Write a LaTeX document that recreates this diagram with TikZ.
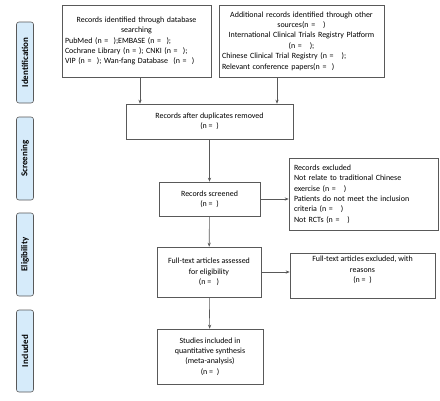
\documentclass[tikz,border=0pt]{standalone}
\usepackage{fontspec}
\setmainfont{Carlito}
\usetikzlibrary{arrows.meta}
\definecolor{boxline}{HTML}{595959}
\definecolor{stagefill}{HTML}{D6EBFA}
\begin{document}
\begin{tikzpicture}
        [x=1bp,y=-1bp,
         box/.style={draw=boxline,line width=0.6bp,inner sep=3bp,
           font=\fontsize{8}{10.4}\selectfont},
         stage/.style={draw=boxline,fill=stagefill,rounded corners=2.5bp,
           line width=0.6bp,rotate=90,minimum height=17bp,inner sep=1bp,
           font=\fontsize{9}{10}\selectfont\bfseries},
         flow/.style={draw=boxline,line width=0.6bp,
           -{Stealth[length=4bp,width=3.2bp]}}]
        \useasboundingbox (0,0) rectangle (440,400);

        % stages on the left
        \node[stage,minimum width=81bp] (id) at (25,62.5) {Identification};
        \node[stage,minimum width=83bp] (scrstage) at (25,158.5) {Screening};
        \node[stage,minimum width=83bp] (elig) at (25,254.5) {Eligibility};
        \node[stage,minimum width=82bp] (incstage) at (25,351) {Included};

        % boxes
        \node[box,minimum width=149bp,minimum height=72bp,text width=143bp,align=left]
          (db) at (136.5,41)
          {{\centering Records identified through database\par searching\par}
           PubMed (n =~~);EMBASE (n =~~);\\
           Cochrane Library (n =~); CNKI (n =~~);\\
           VIP (n =~~); Wan-fang Database~ (n =~~)\\[3bp]};
        \node[box,minimum width=165bp,minimum height=72bp,text width=159bp,align=left]
          (other) at (301.5,41)
          {{\centering Additional records identified through other\par sources(n =~~~)\par
            International Clinical Trials Registry Platform\par (n =~~~);\par}
           Chinese Clinical Trial Registry (n =~~~);\\
           Relevant conference papers(n =~~)};
        \node[box,minimum width=167bp,minimum height=35bp,align=center]
          (dup) at (209.5,121.5) {Records after duplicates removed\\ (n =~~)};
        \node[box,minimum width=101bp,minimum height=34bp,align=center]
          (scr) at (209.5,199) {Records screened\\ (n =~~)};
        \node[box,minimum width=149bp,minimum height=72bp,text width=139bp,
          align=left,inner sep=5bp]
          (excl) at (363.5,194)
          {Records excluded\\
           Not relate to traditional Chinese\\
           exercise (n =~~~)\\
           Patients do not meet the inclusion\\
           criteria (n =~~~)\\
           Not RCTs (n =~~~)};
        \node[box,minimum width=104bp,minimum height=50bp,align=center]
          (ft) at (209,272) {Full-text articles assessed\\ for eligibility\\ (n =~~~)};
        \node[box,minimum width=145bp,minimum height=45bp,align=center]
          (ftex) at (362.5,275.5) {Full-text articles excluded, with\\ reasons\\ (n =~~)\\[2bp]};
        \node[box,minimum width=106bp,minimum height=55bp,align=center]
          (inc) at (210,356.5)
          {Studies included in\\ quantitative synthesis\\ (meta-analysis)\\ (n =~~)};

        % arrows
        \draw[flow] ([xshift=3.5bp]db.south) -- ([xshift=3.5bp]db.south |- dup.north);
        \draw[flow] ([xshift=-24.5bp]other.south) -- ([xshift=-24.5bp]other.south |- dup.north);
        \draw[flow] (dup) -- (scr);
        \draw[flow] (scr.east) -- (scr.east -| excl.west);
        \draw[flow] (scr) -- (ft);
        \draw[flow] (ft.east) -- (ft.east -| ftex.west);
        \draw[flow] (ft) -- (inc);
\end{tikzpicture}
\end{document}
